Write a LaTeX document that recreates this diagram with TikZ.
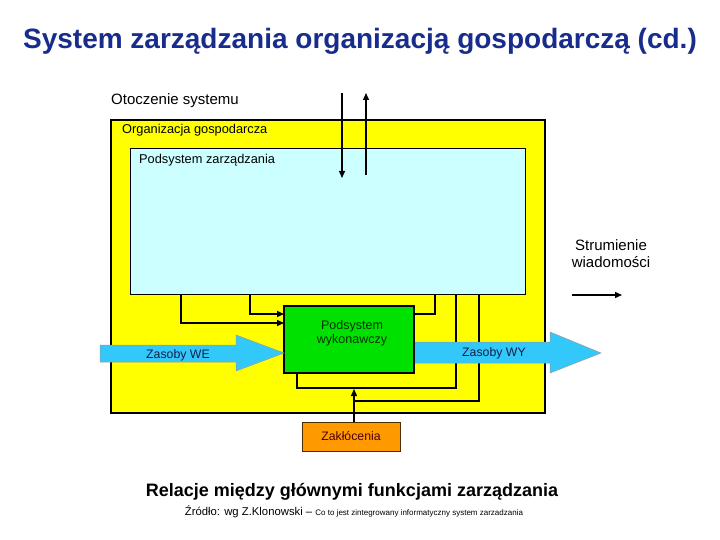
\documentclass[tikz,border=0pt]{standalone}
\usepackage{fontspec}
\setmainfont{Liberation Sans}
\usetikzlibrary{arrows.meta}
\definecolor{titleblue}{RGB}{24,44,140}
\definecolor{yel}{RGB}{255,255,0}
\definecolor{lblue}{RGB}{204,255,255}
\definecolor{grn}{RGB}{0,225,0}
\definecolor{arrblue}{RGB}{51,200,250}
\definecolor{orng}{RGB}{255,153,0}
\definecolor{darktxt}{RGB}{20,30,70}
\begin{document}
\begin{tikzpicture}[x=1pt,y=-1pt,
  panel/.style={draw=black,anchor=north west,inner sep=0pt,outer sep=0pt},
  conn/.style={draw=black,line width=1.3pt},
  tip/.style={-{Triangle[length=7pt,width=6pt]}},
  lbl/.style={anchor=west,inner sep=0pt,font=\fontsize{12.8}{15}\selectfont},
  flow/.style={fill=arrblue,draw=black!40,line width=0.5pt}]
\useasboundingbox (0,0) rectangle (720,540);
% title
\node[font=\fontsize{28}{32}\selectfont\bfseries,text=titleblue] (title) at (360,41) {System zarządzania organizacją gospodarczą (cd.)};
\node[lbl,font=\fontsize{15}{17}\selectfont] (env) at (111,101) {Otoczenie systemu};
% organisation
\node[panel,fill=yel,line width=2pt,minimum width=434pt,minimum height=293pt] (org) at (111,120) {};
\node[lbl] (orglbl) at (122,130) {Organizacja gospodarcza};
\node[panel,fill=lblue,line width=0.8pt,minimum width=395pt,minimum height=146pt] (zarz) at (130,148) {};
\node[lbl] (zarzlbl) at (139,160) {Podsystem zarządzania};
% vertical arrows through the boundary
\coordinate (vinTop) at (342,93);
\coordinate (voutTop) at (366,93);
\draw[conn,tip] (vinTop) -- (342,178);
\draw[conn,tip] (366,175) -- (voutTop);
% green box
\node[panel,fill=grn,line width=2pt,minimum width=130pt,minimum height=67pt] (wyk) at (284,306) {};
\node[align=center,font=\fontsize{12.5}{14}\selectfont,text=black!80!green,inner sep=0pt] (wyklbl) at (352,333) {Podsystem\\wykonawczy};
% connectors
\draw[conn,tip] (zarz.south -| 181,0) |- (wyk.west |- 0,323);
\draw[conn,tip] (zarz.south -| 250,0) |- (wyk.west |- 0,314);
\draw[conn] (wyk.east |- 0,314) -| (zarz.south -| 435,0);
\draw[conn] (zarz.south -| 456,0) -- (456,388) -- (297,388) -- (wyk.south -| 297,0);
\draw[conn] (zarz.south -| 479,0) |- (354,401);
% resources arrows
\draw[flow] (100,345) -- (236,345) -- (236,335) -- (284,353) -- (236,371) -- (236,362) -- (100,362) -- cycle;
\node[font=\fontsize{12.3}{14}\selectfont,text=darktxt,inner sep=0pt] (we) at (178,355) {Zasoby WE};
\draw[flow] (415,342) -- (550,342) -- (550,332) -- (601,353) -- (550,373) -- (550,363) -- (415,363) -- cycle;
\node[font=\fontsize{12.3}{14}\selectfont,text=darktxt,inner sep=0pt] (wy) at (494,353) {Zasoby WY};
% disturbances
\node[panel,fill=orng,line width=0.8pt,draw=black!70!orng,minimum width=98pt,minimum height=29pt] (zak) at (302,422) {};
\node[font=\fontsize{12.3}{14}\selectfont,text=black!70!red,inner sep=0pt] (zaklbl) at (351,436.5) {Zakłócenia};
\draw[conn,tip] (zak.north -| 354,0) -- (354,389);
% legend
\node[align=center,font=\fontsize{15}{17}\selectfont,inner sep=0pt] (legend) at (611,254) {Strumienie\\wiadomości};
\coordinate (legA) at (572,295);
\coordinate (legB) at (622,295);
\draw[conn,tip] (legA) -- (legB);
% caption
\node[font=\fontsize{18}{21}\selectfont\bfseries,inner sep=0pt] (cap) at (352,492) {Relacje między głównymi funkcjami zarządzania};
\node[inner sep=0pt] (src) at (354,512) {{\fontsize{11.3}{13}\selectfont Źródło: wg Z.Klonowski -- }{\fontsize{8}{10}\selectfont Co to jest zintegrowany informatyczny system zarzadzania}};
\end{tikzpicture}
\end{document}
